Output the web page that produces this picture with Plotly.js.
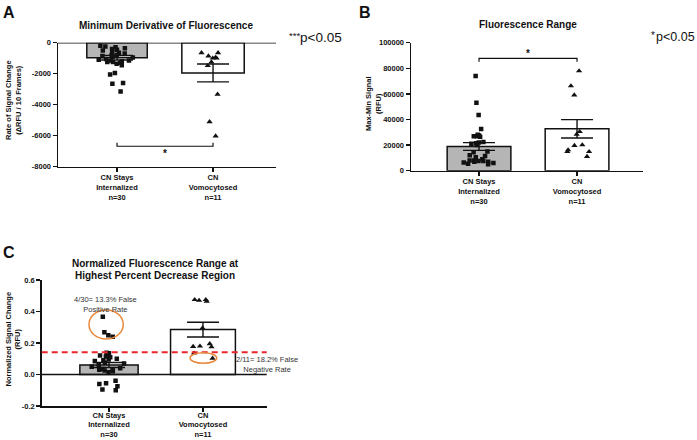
<!DOCTYPE html>
<html><head><meta charset="utf-8">
<script src="https://cdn.plot.ly/plotly-3.0.1.min.js"></script>
<style>html,body{margin:0;padding:0;background:#fff}#chart{width:697px;height:440px}</style>
</head><body><div id="chart"></div>
<script>
// ---- shared ----
const groupLabels = ['CN Stays<br>Internalized<br>n=30', 'CN<br>Vomocytosed<br>n=11'];
const groupPos = [0, 1];

// ---- Panel A: Minimum Derivative of Fluorescence ----
const aMeans = [-970, -1950];
const aSem = [150, 580];
const aInternalized = [-3150, -2650, -2600, -2050, -1950, -1450, -1350, -1300, -1250, -1250, -1200, -1150, -1150, -1100, -1050, -950, -900, -850, -800, -800, -700, -650, -600, -500, -450, -400, -350, -300, -250, -200];
const aVomocytosed = [-650, -650, -1000, -1000, -950, -860, -1250, -1480, -3330, -5100, -6020];
const aTickVals = [-8000, -6000, -4000, -2000, 0];
const aTickText = ['-8000', '-6000', '-4000', '-2000', '0'];

// ---- Panel B: Fluorescence Range ----
const bMeans = [18900, 32700];
const bSem = [3000, 7200];
const bInternalized = [74000, 53000, 43500, 32500, 28000, 27500, 27000, 27000, 26500, 22500, 22000, 21500, 21000, 20000, 15000, 14500, 12000, 11500, 10500, 9000, 8000, 8000, 7500, 7500, 7000, 7000, 6500, 6000, 5500, 5000];
const bVomocytosed = [77900, 66200, 59100, 30500, 28400, 20100, 19600, 16200, 14900, 14900, 11000];
const bTickVals = [0, 20000, 40000, 60000, 80000, 100000];
const bTickText = ['0', '20000', '40000', '60000', '80000', '100000'];

// ---- Panel C: Normalized Fluorescence Range ----
const cMeans = [0.06, 0.285];
const cSem = [0.016, 0.047];
const cInternalized = [0.367, 0.268, 0.25, 0.24, 0.138, 0.135, 0.12, 0.115, 0.11, 0.1, 0.095, 0.09, 0.085, 0.075, 0.07, 0.06, 0.05, 0.04, 0.035, 0.03, 0.03, 0.025, 0.02, 0.015, -0.04, -0.055, -0.06, -0.075, -0.095, -0.1];
const cVomocytosed = [0.475, 0.465, 0.47, 0.475, 0.295, 0.177, 0.175, 0.18, 0.195, 0.135, 0.103];
const cThreshold = 0.141;
const cTickVals = [-0.2, 0, 0.2, 0.4, 0.6];
const cTickText = ['-0.2', '0.0', '0.2', '0.4', '0.6'];

// ---- styling helpers ----
const FONT = 'Arial, "Liberation Sans", Helvetica, sans-serif';
const INK = '#111';
const W = 697, H = 440;
const px = v => v / W;
const py = v => 1 - v / H;

function barTrace(means, sem, widths, xa, ya) {
  return {
    type: 'bar', x: groupPos, y: means, width: widths, xaxis: xa, yaxis: ya,
    marker: { color: ['#b5b5b5', '#ffffff'], line: { color: INK, width: 1.5 } },
    error_y: { type: 'data', array: sem, visible: true, color: INK, thickness: 1.4, width: 16 },
    hoverinfo: 'skip', showlegend: false
  };
}
function pointsTrace(vals, pos, symbol, size, xa, ya) {
  return {
    type: 'box', y: vals, x0: pos, xaxis: xa, yaxis: ya,
    boxpoints: 'all', jitter: 0.8, pointpos: 0, whiskerwidth: 0,
    fillcolor: 'rgba(0,0,0,0)', line: { color: 'rgba(0,0,0,0)', width: 0 },
    marker: { symbol: symbol, size: size, color: INK, line: { width: 0 } },
    hoverinfo: 'skip', showlegend: false
  };
}
const tickFont = { family: FONT, size: 7.5, color: INK, weight: 'bold' };
function xAxis(domain, range, anchor, standoff) {
  return {
    domain, range, anchor, tickvals: groupPos, ticktext: groupLabels,
    showline: true, linecolor: INK, linewidth: 1.5, ticks: 'outside', ticklen: 4,
    tickwidth: 1.5, tickcolor: INK, showgrid: false, zeroline: false, tickfont: tickFont,
    ticklabelstandoff: standoff || 0
  };
}
function yAxis(domain, range, anchor, tv, tt) {
  return {
    domain, range, anchor, tickvals: tv, ticktext: tt,
    showline: true, linecolor: INK, linewidth: 1.5, ticks: 'outside', ticklen: 4,
    tickwidth: 1.5, tickcolor: INK, showgrid: false, zeroline: false, tickfont: tickFont
  };
}

const data = [
  barTrace(aMeans, aSem, [0.63, 0.65], 'x', 'y'),
  pointsTrace(aInternalized, 0, 'square', 4.5, 'x', 'y'),
  pointsTrace(aVomocytosed, 1, 'triangle-up', 5.5, 'x', 'y'),
  barTrace(bMeans, bSem, [0.65, 0.65], 'x2', 'y2'),
  pointsTrace(bInternalized, 0, 'square', 4.5, 'x2', 'y2'),
  pointsTrace(bVomocytosed, 1, 'triangle-up', 5.5, 'x2', 'y2'),
  barTrace(cMeans, cSem, [0.62, 0.69], 'x3', 'y3'),
  pointsTrace(cInternalized, 0, 'square', 4.5, 'x3', 'y3'),
  pointsTrace(cVomocytosed, 1, 'triangle-up', 5.5, 'x3', 'y3')
];

function ann(text, x, y, size, opts) {
  return Object.assign({
    text, x: px(x), y: py(y), xref: 'paper', yref: 'paper', showarrow: false,
    xanchor: 'center', yanchor: 'middle',
    font: { family: FONT, size: size, color: INK, weight: 'bold' }
  }, opts || {});
}
const plain = s => ({ family: FONT, size: s, color: INK });

const layout = {
  width: W, height: H, margin: { l: 0, r: 0, t: 0, b: 0 },
  paper_bgcolor: '#fff', plot_bgcolor: 'rgba(0,0,0,0)', showlegend: false,
  font: { family: FONT, color: INK },
  xaxis: xAxis([px(58), px(276)], [-0.615, 1.656], 'y', -1),
  yaxis: yAxis([py(166.7), py(42.7)], [-8000, 0], 'x', aTickVals, aTickText),
  xaxis2: xAxis([px(411), px(643)], [-0.694, 1.673], 'y2', -1),
  yaxis2: yAxis([py(170.7), py(42.7)], [0, 100000], 'x2', bTickVals, bTickText),
  xaxis3: xAxis([px(41.7), px(266.7)], [-0.716, 1.678], 'y3', -3),
  yaxis3: yAxis([py(406), py(280)], [-0.2, 0.6], 'x3', cTickVals, cTickText),
  shapes: [
    { type: 'line', xref: 'x domain', yref: 'y', x0: 0, x1: 1, y0: 0, y1: 0, line: { color: INK, width: 1.5 } },
    { type: 'path', xref: 'x', yref: 'y', path: 'M0,-6450 L0,-6680 L1,-6680 L1,-6450', line: { color: INK, width: 1.2 } },
    { type: 'path', xref: 'x2', yref: 'y2', path: 'M0,85200 L0,87800 L1,87800 L1,85200', line: { color: INK, width: 1.2 } },
    { type: 'line', xref: 'x3 domain', yref: 'y3', x0: 0, x1: 1, y0: 0, y1: 0, line: { color: INK, width: 1.5 } },
    { type: 'line', xref: 'x3 domain', yref: 'y3', x0: 0, x1: 1, y0: cThreshold, y1: cThreshold, line: { color: '#e8262b', width: 2, dash: '6px,4px' } },
    { type: 'circle', xref: 'x3', yref: 'y3', x0: -0.213, x1: 0.152, y0: 0.225, y1: 0.41, line: { color: '#e8893c', width: 1.5 } },
    { type: 'circle', xref: 'x3', yref: 'y3', x0: 0.862, x1: 1.146, y0: 0.071, y1: 0.138, line: { color: '#e8893c', width: 1.5 } }
  ],
  annotations: [
    ann('A', 1, 2, 16, { xanchor: 'left', yanchor: 'top' }),
    ann('B', 357, 2, 16, { xanchor: 'left', yanchor: 'top' }),
    ann('C', 1, 242, 16, { xanchor: 'left', yanchor: 'top' }),
    ann('Minimum Derivative of Fluorescence', 166, 26, 10),
    ann('Fluorescence Range', 528, 25, 10),
    ann('Normalized Fluorescence Range at', 155, 263.5, 10),
    ann('Highest Percent Decrease Region', 155, 275.5, 10),
    ann('***', 294, 35, 9.5, { font: plain(9.5) }),
    ann('p&lt;0.05', 298, 37, 13.5, { xanchor: 'left', font: plain(13.5) }),
    ann('*', 652.5, 35, 10, { font: plain(10) }),
    ann('p&lt;0.05', 654, 37, 12.5, { xanchor: 'left', font: plain(12.5) }),
    ann('Rate of Signal Change<br>(ΔRFU / 10 Frames)', 13, 100, 7.5, { textangle: -90 }),
    ann('Max-Min Signal<br>(RFU)', 374, 104, 7.5, { textangle: -90 }),
    ann('Normalized Signal Change<br>(RFU)', 12.5, 339, 7.5, { textangle: -90 }),
    { text: '*', x: 0.5, y: -7150, xref: 'x', yref: 'y', showarrow: false, font: { family: FONT, size: 10, color: INK, weight: 'bold' } },
    { text: '*', x: 0.5, y: 91500, xref: 'x2', yref: 'y2', showarrow: false, font: { family: FONT, size: 10, color: INK, weight: 'bold' } },
    ann('4/30= 13.3% False<br>Positive Rate', 105, 304.5, 7.5, { font: { family: FONT, size: 7.5, color: '#333' } }),
    ann('2/11= 18.2% False<br>Negative Rate', 267, 364, 7.5, { font: { family: FONT, size: 7.5, color: '#333' } })
  ]
};

Plotly.newPlot('chart', data, layout, { staticPlot: true, displayModeBar: false });
</script>
</body></html>
